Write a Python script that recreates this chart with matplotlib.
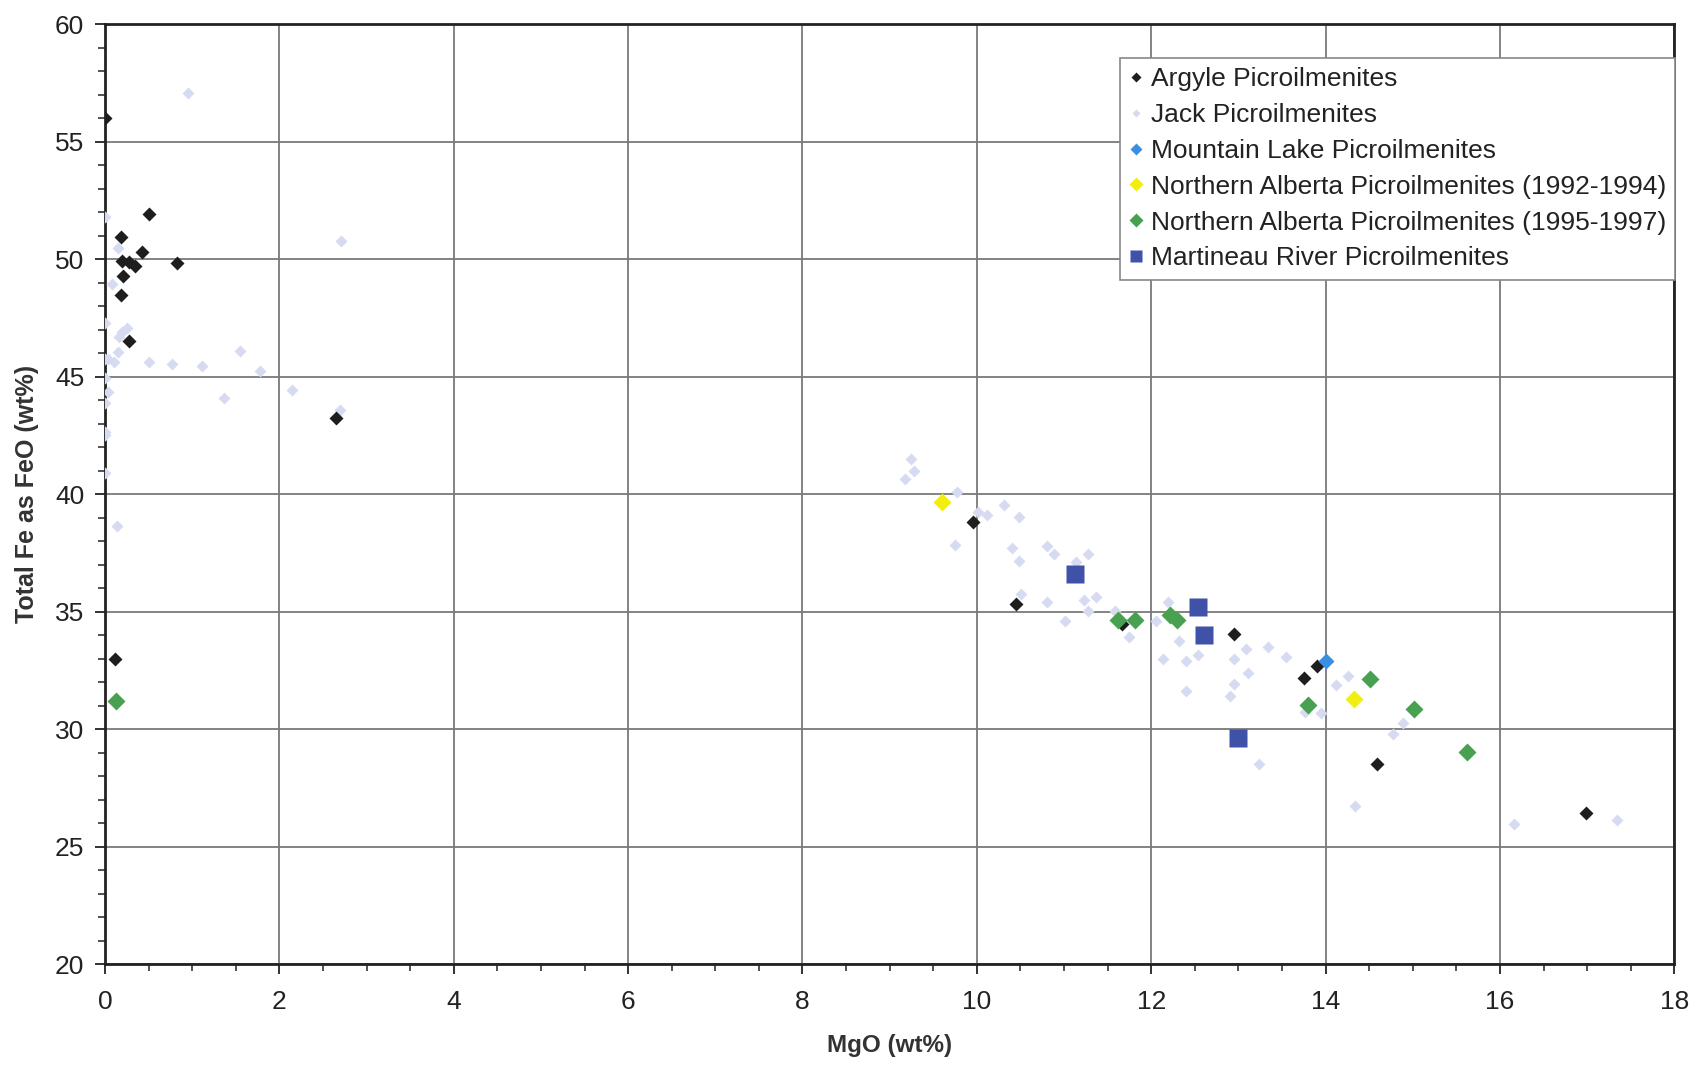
import matplotlib
matplotlib.use("Agg")
import matplotlib.pyplot as plt
from matplotlib.ticker import MultipleLocator

plt.rcParams['font.family'] = ['Liberation Sans', 'DejaVu Sans']

# ---- data (MgO wt%, FeO wt%) ----
argyle_x = [0.0, 0.5, 0.18, 0.2, 0.28, 0.34, 0.42, 0.83, 0.21, 0.18, 0.28, 2.65,
            0.12, 9.95, 10.45, 11.67, 12.95, 13.75, 13.9, 14.59, 16.99]
argyle_y = [56.0, 51.9, 50.92, 49.9, 49.86, 49.72, 50.3, 49.83, 49.27, 48.47, 46.5, 43.25,
            33.0, 38.83, 35.31, 34.47, 34.03, 32.17, 32.67, 28.51, 26.42]

jack_x = [0.0, 0.15, 0.08, 0.0, 0.19, 0.25, 0.16, 0.15, 0.04, 0.1, 0.0, 0.5, 0.77,
          1.11, 1.55, 1.78, 0.0, 0.04, 1.36, 0.0, 0.0, 0.0, 0.0, 0.95, 2.71, 2.15,
          2.69, 0.14,
          9.24, 9.28, 9.18, 9.77, 10.01, 10.12, 10.31, 10.48, 9.75, 10.4, 10.48, 10.8,
          10.88, 11.28, 11.14, 10.51, 10.8, 11.23, 11.37, 11.27, 11.01,
          12.19, 12.06, 11.75, 12.32, 12.13, 12.4, 12.54, 12.4, 13.09, 12.95, 13.34,
          13.55, 13.11, 12.95, 12.9, 14.12, 14.26, 13.76, 13.95, 11.58,
          14.89, 14.77, 13.24, 14.34, 16.16, 17.34]
jack_y = [51.77, 50.45, 48.94, 47.29, 46.9, 47.06, 46.7, 46.05, 45.76, 45.62, 45.76, 45.62, 45.55,
          45.45, 46.07, 45.22, 44.92, 44.35, 44.07, 43.86, 42.66, 42.5, 40.89, 57.06, 50.75, 44.42,
          43.57, 38.65,
          41.47, 41.0, 40.62, 40.08, 39.23, 39.09, 39.54, 39.02, 37.81, 37.7, 37.17, 37.78,
          37.43, 37.46, 37.1, 35.75, 35.4, 35.47, 35.61, 35.04, 34.61,
          35.42, 34.61, 33.91, 33.76, 32.98, 32.91, 33.17, 31.63, 33.41, 32.98, 33.48,
          33.05, 32.39, 31.92, 31.39, 31.87, 32.27, 30.71, 30.68, 35.04,
          30.26, 29.79, 28.51, 26.73, 25.95, 26.13]

mountain_x = [14.0]
mountain_y = [32.88]

nab9294_x = [9.6, 14.33]
nab9294_y = [39.68, 31.28]

nab9597_x = [0.13, 11.62, 11.81, 12.22, 12.3, 13.8, 14.51, 15.01, 15.62]
nab9597_y = [31.2, 34.63, 34.64, 34.85, 34.65, 31.02, 32.13, 30.85, 29.03]

martineau_x = [11.12, 12.54, 12.6, 13.0]
martineau_y = [36.59, 35.19, 34.02, 29.6]

fig = plt.figure(figsize=(16.93, 10.67), dpi=100)
ax = fig.add_axes([0.062, 0.0965, 0.927, 0.881])

ax.plot(jack_x, jack_y, 'D', color='#d6dbf2', ms=6.5, mec='none', ls='none',
        label='Jack Picroilmenites', zorder=3)
ax.plot(argyle_x, argyle_y, 'D', color='#1e1e1e', ms=7.5, mec='none', ls='none',
        label='Argyle Picroilmenites', zorder=4)
ax.plot(mountain_x, mountain_y, 'D', color='#3b8fe0', ms=8.5, mec='none', ls='none',
        label='Mountain Lake Picroilmenites', zorder=4)
ax.plot(nab9294_x, nab9294_y, 'D', color='#f2ee10', ms=9.5, mec='none', ls='none',
        label='Northern Alberta Picroilmenites (1992-1994)', zorder=4)
ax.plot(nab9597_x, nab9597_y, 'D', color='#47a150', ms=9.5, mec='none', ls='none',
        label='Northern Alberta Picroilmenites (1995-1997)', zorder=4)
ax.plot(martineau_x, martineau_y, 's', color='#3f52a8', ms=12.5, mec='none', ls='none',
        label='Martineau River Picroilmenites', zorder=5)

ax.set_xlim(0, 18)
ax.set_ylim(20, 60)
ax.xaxis.set_major_locator(MultipleLocator(2))
ax.xaxis.set_minor_locator(MultipleLocator(0.5))
ax.yaxis.set_major_locator(MultipleLocator(5))
ax.yaxis.set_minor_locator(MultipleLocator(1))
ax.grid(True, which='major', color='#7a7a7a', lw=1.3, zorder=1)
ax.set_axisbelow(True)
ax.tick_params(which='major', direction='out', length=7, width=1.3, labelsize=19, colors='#222222')
ax.tick_params(which='minor', direction='out', length=5, width=1.1, colors='#222222')
ax.tick_params(axis='x', pad=12)
ax.tick_params(axis='y', pad=8)
for s in ax.spines.values():
    s.set_linewidth(2)
    s.set_color('#222222')

ax.set_xlabel('MgO (wt%)', fontsize=17.5, fontweight='bold', color='#333333', labelpad=14)
ax.set_ylabel('Total Fe as FeO (wt%)', fontsize=18, fontweight='bold', color='#333333', labelpad=11)

# legend in the same order as the picture
h, l = ax.get_legend_handles_labels()
order = [1, 0, 2, 3, 4, 5]
leg = ax.legend([h[i] for i in order], [l[i] for i in order],
                loc='upper left', bbox_to_anchor=(0.647, 0.964), fontsize=19,
                frameon=True, fancybox=False, edgecolor='#888888', framealpha=1,
                handlelength=0.5, handletextpad=0.3, labelspacing=0.45,
                borderpad=0.35, borderaxespad=0, markerscale=0.7)
leg.get_frame().set_linewidth(1.2)
for t in leg.get_texts():
    t.set_color('#222222')

fig.savefig('out.png', dpi=100, facecolor='white')
